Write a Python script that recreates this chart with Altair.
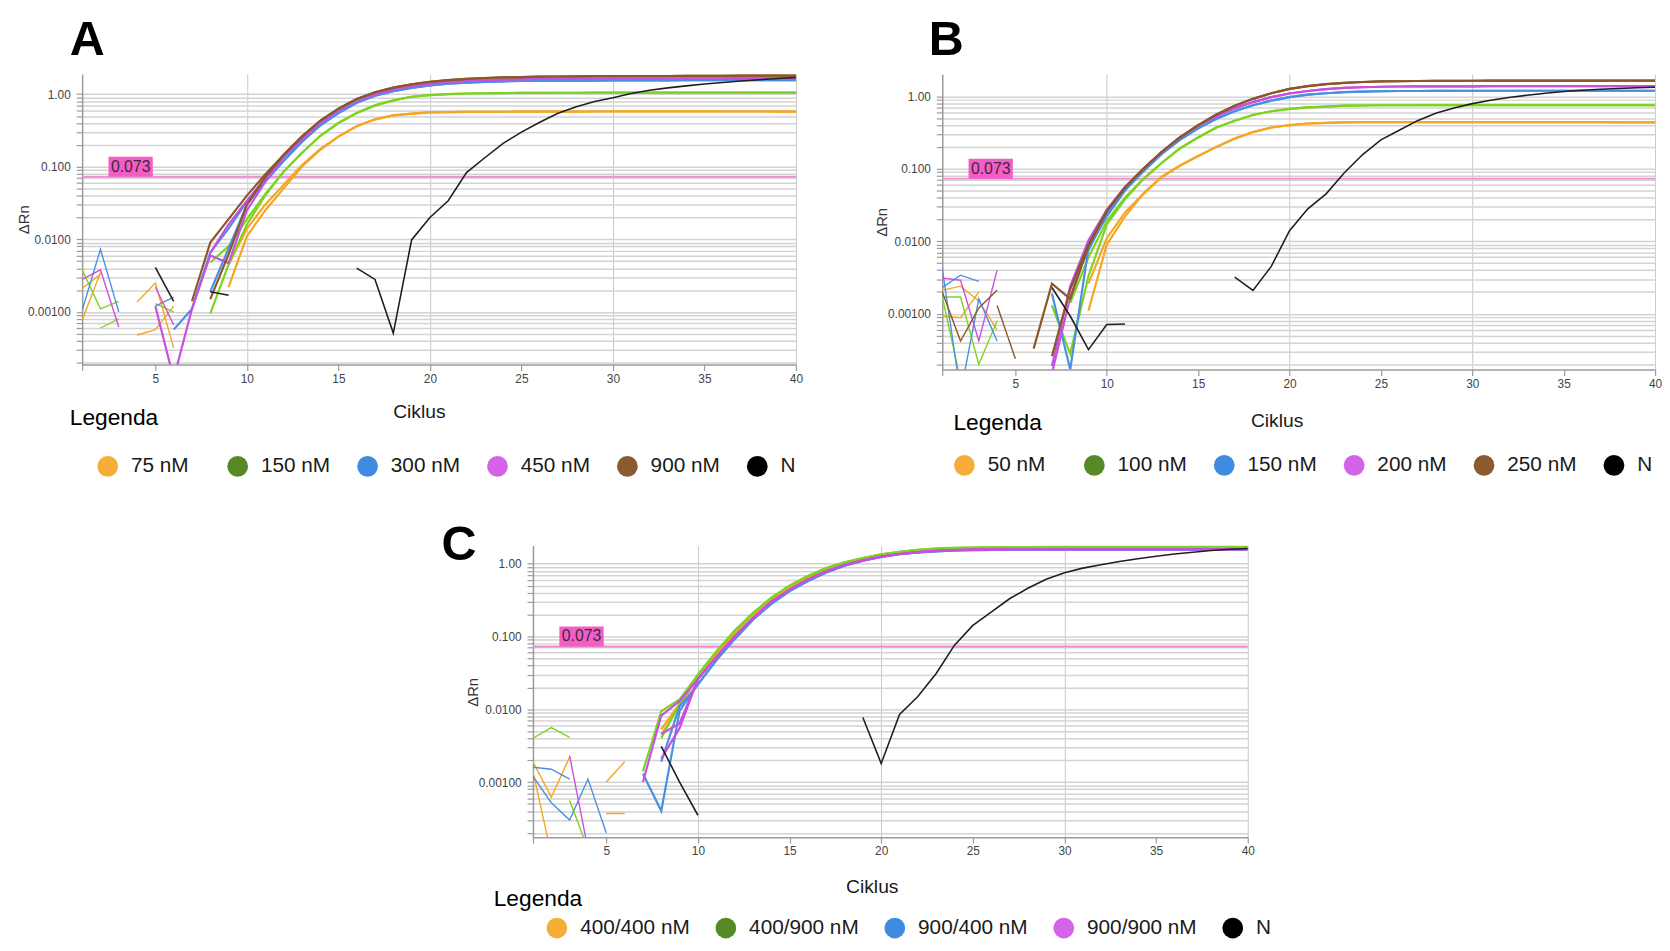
import altair as alt
import pandas as pd

FONT = "Liberation Sans, Arial, Helvetica, sans-serif"
CYCLES = list(range(1, 41))
THRESHOLD = 0.073
X_TICKS = [1, 5, 10, 15, 20, 25, 30, 35, 40]

# colours
LINE_COLORS = ["#f5a623", "#7ed321", "#4a90e2", "#c94fe0", "#8b572a", "#1f1f1f"]
LEGEND_COLORS = ["#f5ad38", "#568a26", "#3f8be2", "#d563e8", "#8b5a2f", "#000000"]
C_LINE_COLORS = ["#f5a623", "#7ed321", "#4a90e2", "#c94fe0", "#1f1f1f"]
C_LEGEND_COLORS = ["#f5ad38", "#568a26", "#3f8be2", "#d563e8", "#000000"]
THR_LINE = "#f28bd6"
THR_BOX = "#f35ec6"

# stroke widths: long amplification curves, short noise fragments, no-template control
W_CURVE, W_NOISE, W_N = 2.2, 1.4, 1.6

# ---------------- Panel A ----------------
A_LABELS = ["75 nM", "150 nM", "300 nM", "450 nM", "900 nM", "N"]

A_75_TAIL = [0.011, 0.025, 0.05, 0.1, 0.17, 0.26, 0.36, 0.45, 0.51, 0.54, 0.56, 0.565, 0.57, 0.57, 0.572,
             0.574, 0.575, 0.575, 0.576, 0.577, 0.577, 0.578, 0.578, 0.578, 0.578, 0.578, 0.577, 0.577,
             0.577, 0.576, 0.576]
A_75_R1 = [0.00077, 0.0035, None, 0.00137, 0.0025, 0.00032, None, None, 0.0022] + A_75_TAIL
A_75_R2 = [0.0021, 0.0033, None, 0.00048, 0.00057, 0.0012, None, None, 0.0045] + \
          [0.014, 0.03, 0.056, 0.105, 0.175] + A_75_TAIL[5:]

A_150_TAIL = [0.016, 0.04, 0.085, 0.155, 0.265, 0.4, 0.55, 0.7, 0.82, 0.92, 0.97, 1.0, 1.02, 1.03, 1.035,
              1.04, 1.04, 1.045, 1.045, 1.05, 1.05, 1.05, 1.05, 1.05, 1.05, 1.05, 1.05, 1.05, 1.05, 1.05, 1.05]
A_150_R1 = [0.0038, 0.0011, 0.0014, None, 0.0013, 0.001, None, 0.00095, 0.0045] + A_150_TAIL
A_150_R2 = [None, 0.0006, 0.0008, None, None, None, None, 0.0048, 0.008] + [0.019, 0.042] + A_150_TAIL[2:]

A_300_TAIL = [0.03, 0.062, 0.12, 0.22, 0.37, 0.55, 0.76, 0.95, 1.1, 1.22, 1.32, 1.39, 1.44, 1.48, 1.5,
              1.52, 1.53, 1.535, 1.54, 1.54, 1.545, 1.55, 1.55, 1.55, 1.555, 1.555, 1.56, 1.56, 1.56, 1.56, 1.56]
A_300_R1 = [0.00105, 0.0073, 0.001, None, 0.0012, 0.0016, None, 0.0019, 0.0075] + A_300_TAIL
A_300_R2 = [None, None, None, None, None, 0.00057, 0.0011, 0.0066, 0.014] + [0.033, 0.065] + A_300_TAIL[2:]

A_450_TAIL = [0.034, 0.07, 0.135, 0.24, 0.4, 0.6, 0.82, 1.0, 1.16, 1.29, 1.39, 1.46, 1.52, 1.56, 1.59,
              1.61, 1.62, 1.63, 1.635, 1.64, 1.64, 1.645, 1.65, 1.65, 1.65, 1.65, 1.655, 1.66, 1.66, 1.66, 1.66]
A_450_R1 = [0.0028, 0.0038, 0.00062, None, 0.0022, 0.00066, None, 0.0065, 0.016] + A_450_TAIL
A_450_R2 = [None, None, None, None, 0.0012, 0.00012, 0.0011, 0.006, 0.0047] + [0.025, 0.062] + A_450_TAIL[2:]

A_900_TAIL = [0.04, 0.078, 0.145, 0.26, 0.43, 0.63, 0.86, 1.06, 1.23, 1.37, 1.48, 1.56, 1.62, 1.67, 1.7,
              1.72, 1.74, 1.75, 1.76, 1.77, 1.77, 1.78, 1.78, 1.78, 1.79, 1.79, 1.79, 1.8, 1.8, 1.8, 1.8]
A_900_R1 = [None, None, None, None, None, None, 0.0014, 0.009, 0.019] + A_900_TAIL
A_900_R2 = [None, None, None, None, None, None, None, 0.0015, 0.0062] + [0.03, 0.072] + A_900_TAIL[2:]

A_N = [None, None, None, None, 0.0041, 0.0014, None, 0.0019, 0.0017, None,
       None, None, None, None, None, 0.004, 0.0028, 0.00051, 0.0098, 0.02,
       0.034, 0.083, 0.133, 0.21, 0.3, 0.41, 0.545, 0.67, 0.79, 0.89,
       1.02, 1.13, 1.22, 1.3, 1.38, 1.45, 1.52, 1.58, 1.64, 1.7]

A_SERIES = [("75 nM", A_75_R1), ("75 nM", A_75_R2), ("150 nM", A_150_R1), ("150 nM", A_150_R2),
            ("300 nM", A_300_R1), ("300 nM", A_300_R2), ("450 nM", A_450_R1), ("450 nM", A_450_R2),
            ("900 nM", A_900_R1), ("900 nM", A_900_R2), ("N", A_N)]

# ---------------- Panel B ----------------
B_LABELS = ["50 nM", "100 nM", "150 nM", "200 nM", "250 nM", "N"]

B_50_TAIL = [0.009, 0.022, 0.045, 0.077, 0.11, 0.15, 0.2, 0.26, 0.32, 0.37, 0.4, 0.42, 0.43, 0.435, 0.44,
             0.44, 0.44, 0.44, 0.44, 0.44, 0.44, 0.44, 0.44, 0.44, 0.44, 0.44, 0.44, 0.44, 0.435, 0.435, 0.435]
B_50_R1 = [0.0021, 0.0024, 0.0015, 0.0006, None, None, None, None, 0.0011] + B_50_TAIL
B_50_R2 = [0.00093, 0.00088, 0.002, None, None, None, None, None, 0.0026] + [0.011, 0.025] + B_50_TAIL[2:]

B_100_TAIL = [0.017, 0.038, 0.072, 0.12, 0.19, 0.27, 0.37, 0.46, 0.55, 0.62, 0.67, 0.7, 0.72, 0.74, 0.745,
              0.75, 0.75, 0.75, 0.755, 0.755, 0.755, 0.755, 0.755, 0.755, 0.755, 0.755, 0.755, 0.755, 0.755,
              0.755, 0.755]
B_100_R1 = [0.0017, 0.0017, 0.0002, 0.0008, None, None, 0.0013, 0.00028, 0.0033] + B_100_TAIL
B_100_R2 = [0.0017, 0.00012, None, None, None, None, None, 0.0014, 0.006] + [0.019, 0.04] + B_100_TAIL[2:]

B_150_TAIL = [0.022, 0.05, 0.092, 0.16, 0.25, 0.36, 0.49, 0.62, 0.75, 0.87, 0.97, 1.05, 1.1, 1.14, 1.16,
              1.17, 1.18, 1.18, 1.185, 1.19, 1.19, 1.19, 1.19, 1.19, 1.19, 1.19, 1.19, 1.19, 1.19, 1.19, 1.19]
B_150_R1 = [0.0042, 0.00008, 0.0016, 0.00042, None, None, 0.0019, 0.00017, 0.008] + B_150_TAIL
B_150_R2 = [0.0023, 0.0034, 0.0028, None, None, None, None, 0.0022, 0.0075] + [0.024, 0.052] + B_150_TAIL[2:]

B_200_TAIL = [0.027, 0.056, 0.1, 0.17, 0.27, 0.39, 0.53, 0.68, 0.83, 0.97, 1.09, 1.18, 1.25, 1.3, 1.33,
              1.35, 1.36, 1.365, 1.37, 1.37, 1.37, 1.375, 1.375, 1.375, 1.38, 1.38, 1.38, 1.38, 1.38, 1.38, 1.38]
B_200_R1 = [0.0031, 0.0029, 0.00042, 0.004, None, None, 0.00019, 0.0024, 0.0103] + B_200_TAIL
B_200_R2 = [None, None, None, None, None, None, 0.00015, 0.0017, 0.009] + B_200_TAIL

B_250_TAIL = [0.026, 0.055, 0.1, 0.17, 0.27, 0.4, 0.56, 0.74, 0.92, 1.1, 1.26, 1.38, 1.47, 1.53, 1.57,
              1.6, 1.61, 1.62, 1.63, 1.63, 1.635, 1.64, 1.64, 1.64, 1.64, 1.64, 1.64, 1.64, 1.64, 1.64, 1.64]
B_250_R1 = [0.002, 0.00042, 0.0012, 0.0021, None, 0.00033, 0.0026, 0.0016, 0.0085] + B_250_TAIL
B_250_R2 = [None, None, None, 0.0013, 0.00024, None, 0.00026, 0.0022, 0.009] + B_250_TAIL

B_N = [None, None, None, None, None, None, 0.0023, 0.00093, 0.00032, 0.00071,
       0.00072, None, None, None, None, None, 0.0032, 0.0021, 0.0045, 0.014,
       0.028, 0.045, 0.088, 0.157, 0.25, 0.34, 0.46, 0.58, 0.69, 0.79,
       0.88, 0.96, 1.03, 1.1, 1.16, 1.21, 1.25, 1.28, 1.31, 1.33]

B_SERIES = [("50 nM", B_50_R1), ("50 nM", B_50_R2), ("100 nM", B_100_R1), ("100 nM", B_100_R2),
            ("150 nM", B_150_R1), ("150 nM", B_150_R2), ("200 nM", B_200_R1), ("200 nM", B_200_R2),
            ("250 nM", B_250_R1), ("250 nM", B_250_R2), ("N", B_N)]

# ---------------- Panel C ----------------
C_LABELS = ["400/400 nM", "400/900 nM", "900/400 nM", "900/900 nM", "N"]

C_ORANGE_TAIL = [0.028, 0.058, 0.112, 0.2, 0.32, 0.47, 0.65, 0.83, 1.0, 1.15, 1.29, 1.4, 1.49, 1.55, 1.59,
                 1.61, 1.62, 1.63, 1.63, 1.64, 1.64, 1.64, 1.64, 1.64, 1.64, 1.64, 1.64, 1.64, 1.64, 1.64, 1.64]
C_GREEN_TAIL = [0.03, 0.062, 0.12, 0.21, 0.34, 0.5, 0.68, 0.87, 1.05, 1.2, 1.35, 1.46, 1.55, 1.61, 1.65,
                1.67, 1.68, 1.69, 1.69, 1.7, 1.7, 1.7, 1.7, 1.7, 1.7, 1.7, 1.7, 1.7, 1.7, 1.7, 1.7]
C_BLUE_TAIL = [0.022, 0.047, 0.092, 0.17, 0.28, 0.42, 0.58, 0.76, 0.94, 1.1, 1.24, 1.35, 1.43, 1.48, 1.52,
               1.54, 1.55, 1.56, 1.56, 1.56, 1.56, 1.56, 1.56, 1.56, 1.56, 1.56, 1.56, 1.56, 1.56, 1.56, 1.56]
C_MAGENTA_TAIL = [0.026, 0.052, 0.1, 0.18, 0.3, 0.44, 0.61, 0.79, 0.96, 1.11, 1.25, 1.36, 1.44, 1.5, 1.54,
                  1.56, 1.57, 1.58, 1.58, 1.58, 1.58, 1.58, 1.58, 1.58, 1.58, 1.58, 1.58, 1.58, 1.58, 1.58, 1.58]

C_OR_R1 = [0.0019, 0.00062, 0.0022, None, 0.001, 0.0019, None, 0.0053, 0.012] + C_ORANGE_TAIL
C_OR_R2 = [0.0014, 0.0001, None, None, 0.00037, 0.00037, None, 0.0045, 0.011] + C_ORANGE_TAIL
C_GR_R1 = [0.004, 0.0056, 0.0041, None, None, None, 0.0014, 0.0094, 0.0137] + C_GREEN_TAIL
C_GR_R2 = [None, None, 0.00056, 0.00012, None, None, None, 0.004, 0.012] + C_GREEN_TAIL
C_BL_R1 = [0.0016, 0.0015, 0.0011, None, None, None, 0.0013, 0.0004, 0.0095] + C_BLUE_TAIL
C_BL_R2 = [0.0012, 0.00052, 0.0003, 0.0011, 0.0002, None, None, 0.0019, 0.011] + C_BLUE_TAIL
C_MA_R1 = [None, None, 0.0023, 0.00012, None, None, 0.001, 0.0082, 0.013] + C_MAGENTA_TAIL
C_MA_R2 = [None, None, None, None, None, None, None, 0.0046, 0.0064] + C_MAGENTA_TAIL
C_MA_R3 = [None, None, None, None, None, None, None, 0.0021, 0.0055] + C_MAGENTA_TAIL
C_N = [None, None, None, None, None, None, None, 0.0031, 0.001, 0.00035,
       None, None, None, None, None, None, None, None, 0.0077, 0.0018,
       0.0085, 0.015, 0.031, 0.076, 0.142, 0.216, 0.33, 0.46, 0.61, 0.75,
       0.87, 0.97, 1.07, 1.17, 1.27, 1.36, 1.44, 1.52, 1.58, 1.62]

C_SERIES = [("400/400 nM", C_OR_R1), ("400/400 nM", C_OR_R2), ("400/900 nM", C_GR_R1), ("400/900 nM", C_GR_R2),
            ("900/400 nM", C_BL_R1), ("900/400 nM", C_BL_R2), ("900/900 nM", C_MA_R1), ("900/900 nM", C_MA_R2),
            ("900/900 nM", C_MA_R3), ("N", C_N)]

# threshold label box (cycles / ΔRn)
BOX_X = (2.44, 4.86)
BOX_TOP = 0.137
BOX_TEXT_Y = 0.1

Y_GRID = [round(m * 10.0 ** e, 12) for e in range(-4, 0) for m in range(1, 10)] + [1.0]
Y_LABEL_EXPR = ("abs(log(datum.value)/LN10 - round(log(datum.value)/LN10)) < 0.001 "
                "? format(datum.value, '.3r') : ''")


def to_frame(series, labels, colors):
    cmap = dict(zip(labels, colors))
    rows = []
    for idx, (label, vals) in enumerate(series):
        seg = 0
        seg_rows = []
        for c, v in zip(CYCLES, vals + [None]):
            if v is None:
                if seg_rows:
                    if label == "N":
                        w = W_N
                    else:
                        w = W_CURVE if len(seg_rows) >= 10 else W_NOISE
                    for r in seg_rows:
                        r["w"] = w
                    rows.extend(seg_rows)
                    seg_rows = []
                seg += 1
                continue
            seg_rows.append({"label": label, "hex": cmap[label], "key": f"{idx:02d}-{seg:02d}",
                             "cycle": c, "value": v})
        if seg_rows:
            w = W_N if label == "N" else (W_CURVE if len(seg_rows) >= 10 else W_NOISE)
            for r in seg_rows:
                r["w"] = w
            rows.extend(seg_rows)
    return pd.DataFrame(rows)


def text_layer(txt, x, y, size, weight="normal", baseline="alphabetic"):
    return alt.Chart(pd.DataFrame({"t": [txt]})).mark_text(
        align="left", baseline=baseline, fontSize=size, fontWeight=weight,
        font=FONT, color="#000000"
    ).encode(x=alt.value(x), y=alt.value(y), text="t:N")


def build_panel(series, labels, line_colors, legend_colors, ydom, width, height, g):
    df = to_frame(series, labels, line_colors)
    yvals = [v for v in Y_GRID if ydom[0] <= v <= ydom[1]]

    x_enc = alt.X("cycle:Q", scale=alt.Scale(domain=[1, 40], nice=False, zero=False),
                  axis=alt.Axis(values=X_TICKS, labelExpr="datum.value == 1 ? '' : datum.label",
                                labelFlush=False, labelOverlap=False,
                                grid=True, gridColor="#c8c8c8", gridWidth=1,
                                gridOpacity={"condition": {"test": "datum.value % 10 == 0", "value": 1},
                                             "value": 0},
                                domainColor="#9a9a9a", domainWidth=1.5, tickColor="#9a9a9a",
                                tickWidth=1.2, tickSize=6,
                                labelFont=FONT, labelFontSize=12, labelColor="#444444", labelPadding=3,
                                title="Ciklus", titleFont=FONT, titleFontSize=19.5, titleFontWeight="normal",
                                titleColor="#1a1a1a", titleX=g["ciklus"][0], titleY=g["ciklus"][1],
                                titleAlign="center", titleBaseline="alphabetic"))
    y_enc = alt.Y("value:Q", scale=alt.Scale(type="log", domain=list(ydom), nice=False),
                  axis=alt.Axis(values=yvals, labelExpr=Y_LABEL_EXPR, labelOverlap=False, labelFlush=False,
                                grid=True, gridColor="#d3d3d3", gridWidth=1.5,
                                domainColor="#9a9a9a", domainWidth=1.5, tickColor="#9a9a9a",
                                tickWidth=1.2, tickSize=6,
                                labelFont=FONT, labelFontSize=12, labelColor="#444444", labelPadding=6,
                                title="ΔRn", titleFont=FONT, titleFontSize=15, titleFontWeight="normal",
                                titleColor="#333333", titleX=g["yt"][0], titleY=g["yt"][1],
                                titleAngle=270, titleAlign="center", titleBaseline="middle"))

    one = pd.DataFrame({"t": ["0.073"]})
    rule = alt.Chart(one).mark_rule(color=THR_LINE, strokeWidth=2).encode(y=alt.datum(THRESHOLD))
    box = alt.Chart(one).mark_rect(color=THR_BOX).encode(
        x=alt.datum(BOX_X[0]), x2=alt.datum(BOX_X[1]), y=alt.datum(THRESHOLD), y2=alt.datum(BOX_TOP))
    box_text = alt.Chart(one).mark_text(fontSize=16, font=FONT, color="#3d2a3a").encode(
        x=alt.datum((BOX_X[0] + BOX_X[1]) / 2), y=alt.datum(BOX_TEXT_Y), text="t:N")

    lines = alt.Chart(df).mark_line(clip=True).encode(
        x=x_enc, y=y_enc,
        stroke=alt.Stroke("hex:N", scale=None),
        strokeWidth=alt.StrokeWidth("w:Q", scale=None),
        detail="key:N")

    legend_df = df.drop_duplicates("label")
    legend_layer = alt.Chart(legend_df).mark_circle(opacity=0, clip=True).encode(
        x=x_enc, y=y_enc,
        fill=alt.Fill("label:N", scale=alt.Scale(domain=labels, range=legend_colors),
                      legend=alt.Legend(title=None, orient="none", legendX=g["legend"][0],
                                        legendY=g["legend"][1], direction="horizontal",
                                        columns=len(labels), symbolType="circle", symbolSize=441,
                                        symbolStrokeWidth=0, symbolOpacity=1, labelFont=FONT,
                                        labelFontSize=21, labelColor="#1a1a1a", labelOffset=13,
                                        columnPadding=g["colpad"], gridAlign="all", padding=0,
                                        labelLimit=400)))

    layers = [rule, box, box_text, lines, legend_layer,
              text_layer(g["letter"][0], g["letter"][1], g["letter"][2], 49, "bold", "top"),
              text_layer("Legenda", g["legenda"][0], g["legenda"][1], 23)]
    return alt.layer(*layers).properties(width=width, height=height)


GEOM_A = {"letter": ("A", -12.5, -58.1), "legenda": (-12.5, 355.3), "ciklus": (340.6, 53.3),
          "yt": (-59.4, 147), "legend": (15.4, 386.5), "colpad": 26.4}
GEOM_B = {"letter": ("B", -13.7, -58.1), "legenda": (11.3, 360.2), "ciklus": (338.2, 58.1),
          "yt": (-61.7, 149.6), "legend": (11.9, 385.4), "colpad": 26.4}
GEOM_C = {"letter": ("C", -92.6, -23.9), "legenda": (-39.7, 364.7), "ciklus": (342.7, 56),
          "yt": (-60.7, 148), "legend": (13.7, 376.4), "colpad": 25.9}

panel_a = build_panel(A_SERIES, A_LABELS, LINE_COLORS, LEGEND_COLORS, (1.88e-4, 1.9), 722, 294, GEOM_A)
panel_b = build_panel(B_SERIES, B_LABELS, LINE_COLORS, LEGEND_COLORS, (1.7e-4, 2.03), 721, 299, GEOM_B)
panel_c = build_panel(C_SERIES, C_LABELS, C_LINE_COLORS, C_LEGEND_COLORS, (1.75e-4, 1.78), 723, 295, GEOM_C)

spacer = alt.Chart(pd.DataFrame({"t": [""]})).mark_point(opacity=0).encode(
    x=alt.value(0), y=alt.value(0)).properties(width=363, height=10)

row1 = alt.hconcat(panel_a, panel_b, spacing=72).resolve_scale(fill="independent")
row2 = alt.hconcat(spacer, panel_c, spacing=0).resolve_scale(fill="independent")
chart = alt.vconcat(row1, row2, spacing=45).resolve_scale(
    fill="independent"
).properties(
    padding={"left": 8, "top": 2.3, "right": 0, "bottom": 0}
).configure_view(stroke=None)

chart.save("out.html", embed_options={"renderer": "svg", "actions": False})
